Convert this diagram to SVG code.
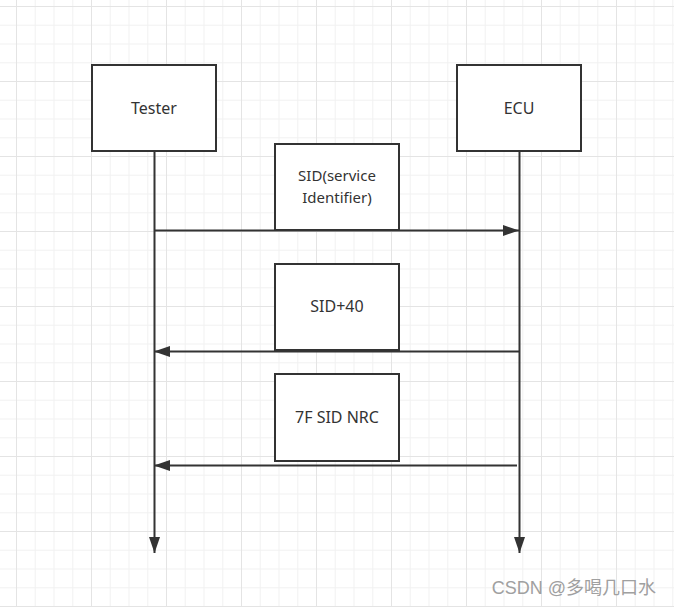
<svg xmlns="http://www.w3.org/2000/svg" width="674" height="607" viewBox="0 0 674 607">
  <style>
    .box { fill: #ffffff; stroke: #333333; stroke-width: 2; }
    .lbl { font-family: "Noto Sans", "Open Sans", "Liberation Sans", sans-serif; font-size: 16px; fill: #333333; text-anchor: middle; }
    .sm { font-size: 15px; }
    .conn { stroke: #333333; stroke-width: 2; fill: none; }
    .wm { font-family: "Liberation Sans", "Noto Sans CJK SC", sans-serif; font-size: 18px; fill: #a0a0a0; }
  </style>
  <defs>
    <pattern id="grid" patternUnits="userSpaceOnUse" x="16" y="6" width="75" height="75">
      <rect x="0" y="0" width="75" height="75" fill="#ffffff"/>
      <rect x="18.75" y="0" width="1" height="75" fill="#f2f2f2"/>
      <rect x="37.5" y="0" width="1" height="75" fill="#f2f2f2"/>
      <rect x="56.25" y="0" width="1" height="75" fill="#f2f2f2"/>
      <rect x="0" y="18.75" width="75" height="1" fill="#f2f2f2"/>
      <rect x="0" y="37.5" width="75" height="1" fill="#f2f2f2"/>
      <rect x="0" y="56.25" width="75" height="1" fill="#f2f2f2"/>
      <rect x="0" y="0" width="1" height="75" fill="#e4e4e4"/>
      <rect x="0" y="0" width="75" height="1" fill="#e4e4e4"/>
    </pattern>
    <marker id="arrow" markerUnits="userSpaceOnUse" markerWidth="16" markerHeight="12" refX="16" refY="5.5" orient="auto" viewBox="0 0 16 11">
      <path d="M0,0 L16,5.5 L0,11 Z" fill="#333333"/>
    </marker>
  </defs>
  <rect x="0" y="0" width="674" height="607" fill="url(#grid)"/>

  <g id="connectors">
    <line class="conn" x1="154.5" y1="151" x2="154.5" y2="553" marker-end="url(#arrow)"/>
    <line class="conn" x1="519.5" y1="151" x2="519.5" y2="553" marker-end="url(#arrow)"/>
    <line class="conn" x1="155" y1="230.5" x2="519" y2="230.5" marker-end="url(#arrow)"/>
    <line class="conn" x1="519" y1="351.5" x2="154" y2="351.5" marker-end="url(#arrow)"/>
    <line class="conn" x1="517" y1="465.5" x2="154" y2="465.5" marker-end="url(#arrow)"/>
  </g>

  <g id="tester">
    <rect class="box" x="92" y="65" width="124" height="86"/>
    <text class="lbl" x="154" y="114">Tester</text>
  </g>
  <g id="ecu">
    <rect class="box" x="457" y="65" width="124" height="86"/>
    <text class="lbl" x="519" y="114">ECU</text>
  </g>
  <g id="sid">
    <rect class="box" x="275" y="144" width="124" height="86"/>
    <text class="lbl sm" x="337" y="181">SID(service</text>
    <text class="lbl sm" x="337" y="203">Identifier)</text>
  </g>
  <g id="sid40">
    <rect class="box" x="275" y="264" width="124" height="86"/>
    <text class="lbl" x="337" y="312">SID+40</text>
  </g>
  <g id="nrc">
    <rect class="box" x="275" y="374" width="124" height="87"/>
    <text class="lbl" x="337" y="423">7F SID NRC</text>
  </g>

  <text class="wm" x="656" y="594" text-anchor="end">CSDN @多喝几口水</text>
</svg>
